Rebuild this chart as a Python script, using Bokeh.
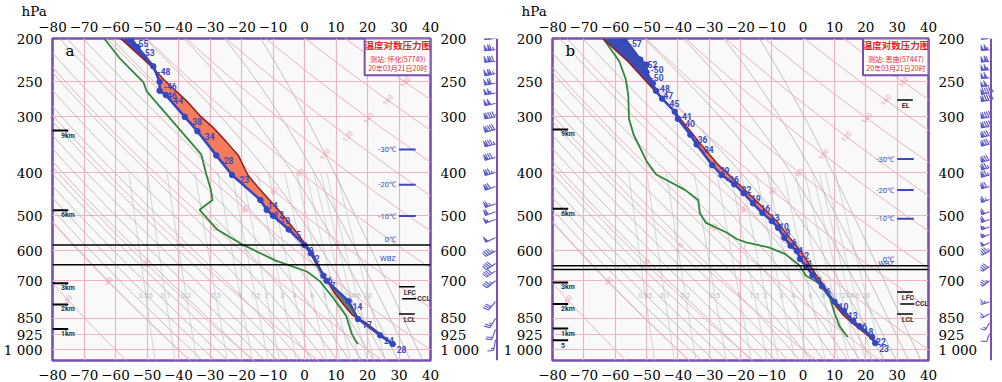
import numpy as np
from bokeh.plotting import figure
from bokeh.models import Range1d, FixedTicker, LinearAxis, LogAxis, Span, Label, Title
from bokeh.layouts import row
from bokeh.embed import file_html
from bokeh.resources import INLINE
from bokeh.core.properties import value

# ---------------- axes / ticks ----------------
P_TICKS = [200, 250, 300, 400, 500, 600, 700, 850, 925, 1000]
P_TICK_LABELS = ["200", "250", "300", "400", "500", "600", "700", "850", "925", "1 000"]
T_TICKS = [-80, -70, -60, -50, -40, -30, -20, -10, 0, 10, 20, 30, 40]
T_TICK_LABELS = ["−80", "−70", "−60", "−50", "−40", "−30", "−20", "−10", "0", "10", "20", "30", "40"]
T_GRID = [-70, -60, -50, -40, -30, -20, -10, 0, 10, 20, 30]
P_GRID = [250, 300, 400, 500, 600, 700, 850, 925, 1000]
P_UNIT = "hPa"

# background families
DRY_THETAS = list(range(-60, 221, 20))
DRY_LABELS = [-60, -40, -20, 0, 20, 40, 60, 80, 100, 120, 140, 160, 180]
MOIST_THW = list(range(-40, 37, 4))
MIX_W = [0.05, 0.1, 0.2, 0.5, 1, 1.5, 2, 3, 4, 6, 8, 10, 12, 14, 16, 20]
MIX_LABELS = ["0.05", "0.1", "0.2", "0.5", "1", "1.5", "2", "3", "4", "6", "8", "10", "12", "14", "16", "20"]

TITLE = "温度对数压力图"
TIME_TXT = "20年03月21日20时"

# ---------------- panel a : 怀化 ----------------
a_station = "测站: 怀化(57749)"
a_env_p = [200, 209, 231, 250, 262, 268, 300, 323, 366, 405, 461, 485, 500, 537, 582, 607, 682, 700, 778, 853, 928, 971]
a_env_t = [-55, -53, -48, -46, -46, -44, -38, -34, -28, -23, -14, -12, -10, -5, 0, 2, 6, 7, 14, 17, 24, 28]
a_dew_p = [200, 221, 251, 263, 364, 403, 438, 461, 485, 537, 579, 630, 668, 703, 765, 839, 921, 971]
a_dew_t = [-63.6, -58.8, -51.1, -50.1, -32.8, -31.2, -29.7, -29.2, -33.3, -27.7, -20.0, -9.3, 0.9, 5.0, 9.1, 13.2, 15.0, 16.9]
a_par_p = [200, 232, 250, 279, 300, 317, 340, 366, 405, 438, 485, 537, 582, 607, 640, 682, 700, 741, 790, 836, 870, 925, 971]
a_par_t = [-58.4, -48.3, -44.0, -36.8, -32.8, -29.0, -25.0, -21.0, -18.0, -14.0, -8.3, -3.2, 0.5, 2.6, 4.2, 6.1, 7.2, 9.3, 12.3, 15.2, 19.5, 24.3, 28]
a_neg_top = (200, 232)
a_cape = (232, 582)
a_cin = (700, 925)
a_wind_p = [200, 212, 225, 240, 252, 265, 280, 300, 320, 345, 370, 400, 430, 470, 490, 510, 560, 600, 640, 665, 700, 780, 850, 900, 950]
a_wind_d = [265, 265, 265, 260, 260, 260, 260, 260, 255, 255, 255, 255, 250, 250, 250, 250, 245, 240, 235, 235, 230, 220, 210, 200, 190]
a_wind_s = [44, 46, 48, 46, 44, 42, 40, 38, 36, 34, 32, 30, 28, 26, 24, 22, 20, 18, 16, 16, 14, 12, 10, 8, 6]
a_km_p = [322, 486, 709, 791, 898]
a_km_lab = ["9km", "6km", "3km", "2km", "1km"]
a_lev_p = [722, 768, 831, 232]
a_lev_lab = ["LFC", "CCL", "LCL", "EL"]
a_iso_p = [355, 426, 501]
a_iso_lab = ["-30℃", "-20℃", "-10℃"]
a_zero_p = 582
a_wbz_p = 644

# ---------------- panel b : 恩施 ----------------
b_station = "测站: 恩施(57447)"
b_env_p = [200, 223, 229, 238, 252, 262, 273, 292, 303, 329, 346, 385, 405, 425, 445, 469, 493, 514, 532, 560, 584, 600, 625, 651, 680, 720, 780, 818, 863, 886, 936, 966]
b_env_t = [-57, -52, -50, -50, -48, -47, -45, -41, -40, -36, -34, -29, -26, -22, -19, -16, -13, -10, -8, -6, -4, -2, -1, 1, 3, 6, 10, 13, 16, 18, 22, 23]
b_dew_p = [200, 225, 247, 269, 303, 329, 378, 404, 438, 461, 493, 519, 546, 564, 574, 589, 609, 646, 681, 708, 765, 830, 885, 936]
b_dew_t = [-63.8, -58.7, -56.6, -55.8, -55.6, -54.1, -49.9, -46.9, -37.6, -33.5, -33.0, -31.0, -24.3, -21.2, -18.2, -11.0, -5.8, -1.2, 0.8, 4.9, 8.5, 10.1, 11.6, 14.2]
b_par_p = [200, 225, 250, 273, 292, 303, 346, 385, 425, 469, 514, 560, 600, 651, 680, 715, 742, 790, 833, 886, 936, 966]
b_par_t = [-64, -56, -50, -45, -40.8, -39.2, -32.6, -27, -20.5, -14.2, -8.5, -4.3, -0.8, 2.4, 4.2, 6.5, 7.9, 10, 12.6, 17, 21.2, 23]
b_neg_top = (200, 273)
b_cape = (273, 742)
b_cin = (742, 936)
b_wind_p = [200, 212, 225, 235, 245, 255, 265, 275, 300, 315, 330, 345, 375, 390, 405, 430, 460, 490, 510, 530, 550, 575, 600, 650, 700, 780, 830, 870, 920]
b_wind_d = [265, 265, 265, 265, 265, 260, 260, 260, 260, 260, 255, 255, 255, 255, 255, 255, 250, 250, 250, 250, 245, 245, 240, 235, 230, 250, 240, 210, 200]
b_wind_s = [40, 42, 44, 42, 40, 40, 38, 38, 36, 36, 34, 34, 32, 30, 30, 28, 26, 24, 24, 22, 22, 20, 18, 16, 14, 10, 8, 6, 4]
b_km_p = [320, 482, 706, 789, 896, 952]
b_km_lab = ["9km", "6km", "3km", "2km", "1km", "5"]
b_lev_p = [742, 789, 831, 275]
b_lev_lab = ["LFC", "CCL", "LCL", "EL"]
b_iso_p = [373, 438, 508]
b_iso_lab = ["-30℃", "-20℃", "-10℃"]
b_zero_p = 648
b_wbz_p = 660

# ---------------- styling constants ----------------
PMIN, PMAX = 200.0, 1057.0
TOP, BOT = 37, 18
H = 382
FH = H - TOP - BOT
KPX = FH / np.log(PMAX / PMIN)

PURPLE = "#7a4eb2"
PINK_GRID = "#f1b4c4"
DRY_COL = "#f0b0ba"
MOIST_COL = "#b9b1a7"
MIX_COL = "#c6ced6"
ENV_COL = "#3447c0"
DEW_COL = "#2e8a3a"
PAR_COL = "#9b1c1c"
CAPE_COL = "#f47b5b"
NEG_COL = "#3a4cb6"
CIN_COL = "#5d7f6b"
LBL_BLUE = "#3a49c2"
TITLE_RED = "#e4262c"
BARB_COL = "#5b55c8"
SERIF = "DejaVu Serif"
SANS = "Roboto"
CJK = "Noto Sans CJK SC"
TICK_FS = "13.5px"

Rd, cp, Lv, eps = 287.04, 1005.7, 2.501e6, 0.622


def dTdp(T, p):
    e = 6.112 * np.exp(17.67 * (T - 273.15) / (T - 29.65))
    rs = eps * e / (p - e)
    return (Rd * T + Lv * rs) / (p * (cp + Lv * Lv * rs * eps / (Rd * T * T)))


def integrate(pp, T0):
    T = np.array(T0, float) + 273.15
    out = [T.copy()]
    for i in range(1, len(pp)):
        dp = pp[i] - pp[i - 1]
        k1 = dTdp(T, pp[i - 1])
        k2 = dTdp(T + k1 * dp, pp[i])
        T = T + 0.5 * (k1 + k2) * dp
        out.append(T.copy())
    return np.array(out) - 273.15


def moist_family():
    up = np.geomspace(1000, PMIN * 0.98, 180)
    down = np.geomspace(1000, PMAX * 1.01, 10)
    tu = integrate(up, MOIST_THW)
    td = integrate(down, MOIST_THW)
    pp = np.concatenate([down[::-1], up[1:]])
    tt = np.concatenate([td[::-1], tu[1:]], axis=0)
    return [list(tt[:, i]) for i in range(len(MOIST_THW))], [list(pp)] * len(MOIST_THW)


def dry_T(theta_c, pp):
    return (theta_c + 273.15) * (np.asarray(pp) / 1000.0) ** 0.2857 - 273.15


def mix_T(w, pp):
    pp = np.asarray(pp)
    e = w * pp / (622.0 + w)
    l = np.log(e / 6.112)
    return 243.5 * l / (17.67 - l)


def style_axis(ax, ticks, labels, standoff=4):
    ax.ticker = FixedTicker(ticks=ticks)
    ax.major_label_overrides = dict(zip(ticks, labels))
    ax.major_tick_line_color = None
    ax.minor_tick_line_color = None
    ax.axis_line_color = None
    ax.major_label_text_font = SERIF
    ax.major_label_text_font_size = TICK_FS
    ax.major_label_text_color = "black"
    ax.major_label_standoff = standoff


def band(env_p, env_t, par_p, par_t, rng):
    lo, hi = rng
    e = [(pp, tt) for pp, tt in zip(env_p, env_t) if lo <= pp <= hi]
    q = [(pp, tt) for pp, tt in zip(par_p, par_t) if lo <= pp <= hi]
    xs = [tt for pp, tt in e] + [tt for pp, tt in reversed(q)]
    ys = [pp for pp, tt in e] + [pp for pp, tt in reversed(q)]
    return xs, ys


def make_main(d):
    W = d["ml"] + d["fw"] + d["mr"]
    p = figure(width=W, height=H, x_range=Range1d(-80, 40), y_range=Range1d(PMAX, PMIN),
               y_axis_type="log", output_backend="svg", toolbar_location=None,
               min_border_left=d["ml"], min_border_right=d["mr"],
               min_border_top=0, min_border_bottom=BOT)
    top_ax = LinearAxis()
    p.add_layout(top_ax, "above")
    # pressure unit, placed above the top axis at the left of the frame
    p.add_layout(Title(text=P_UNIT, align="left", offset=-31, standoff=0,
                       text_font=SERIF, text_font_size=TICK_FS, text_font_style="normal",
                       text_color="black"), "above")
    p.add_layout(LogAxis(), "right")
    for ax in p.below:
        style_axis(ax, T_TICKS, T_TICK_LABELS, 3)
    style_axis(top_ax, T_TICKS, T_TICK_LABELS, 1)
    for ax in p.yaxis:
        style_axis(ax, P_TICKS, P_TICK_LABELS, 4)
    p.xgrid.ticker = FixedTicker(ticks=T_GRID)
    p.ygrid.ticker = FixedTicker(ticks=P_GRID)
    p.grid.grid_line_color = PINK_GRID
    p.grid.grid_line_width = 1.2
    p.background_fill_color = "#f9f9f9"
    p.border_fill_color = "white"
    p.outline_line_color = PURPLE
    p.outline_line_width = 2.6

    # mixing ratio lines
    pm = np.geomspace(PMAX * 1.01, 400, 40)
    p.multi_line([list(mix_T(w, pm)) for w in MIX_W], [list(pm)] * len(MIX_W),
                 line_color=MIX_COL, line_width=0.8)
    plab = 757.0
    p.text([float(mix_T(w, plab)) for w in MIX_W], [plab] * len(MIX_W), text=MIX_LABELS,
           text_font=value(SANS), text_font_size=value("7px"), text_color="#b9bec4",
           text_align="center", text_baseline="middle")
    # moist adiabats
    mx, my = moist_family()
    p.multi_line(mx, my, line_color=MOIST_COL, line_width=0.9, line_alpha=0.9)
    # dry adiabats (pink)
    pd = np.geomspace(PMAX * 1.01, PMIN * 0.98, 60)
    p.multi_line([list(dry_T(th, pd)) for th in DRY_THETAS], [list(pd)] * len(DRY_THETAS),
                 line_color=DRY_COL, line_width=1.0)
    lp = [float(np.exp(np.log(772) - (th + 60) / 20 * 0.0938)) for th in DRY_LABELS]
    lt = [float(dry_T(th, pl)) for th, pl in zip(DRY_LABELS, lp)]
    p.text(lt, lp, text=[str(t) for t in DRY_LABELS], angle=0.9,
           text_font=value(SANS), text_font_size=value("7px"), text_color="#eaa0aa",
           text_align="center", text_baseline="middle")

    # level lines 0C / WBZ
    for loc in (d["zero"], d["wbz"]):
        p.add_layout(Span(location=loc, dimension="width", line_color="black", line_width=1.5))
    p.text([29, 29], [d["zero"], d["wbz"]], text=["0℃", "WBZ"], y_offset=-6,
           text_font=value(SANS), text_font_size=value("7.5px"), text_color=LBL_BLUE,
           text_align="right", text_baseline="middle")

    # iso temperature markers
    p.segment([30] * 3, d["iso_p"], [35.3] * 3, d["iso_p"], line_color=LBL_BLUE, line_width=2)
    p.text([29] * 3, d["iso_p"], text=d["iso_lab"], text_font=value(SANS),
           text_font_size=value("7.5px"), text_color=LBL_BLUE, text_align="right",
           text_baseline="middle")

    # height markers
    n = len(d["km_p"])
    p.segment([-80] * n, d["km_p"], [-75] * n, d["km_p"], line_color="black", line_width=2)
    p.text([-77.3] * n, d["km_p"], text=d["km_lab"], y_offset=5, text_font=value(SANS),
           text_font_style="bold", text_font_size=value("7px"), text_color="#333333",
           text_align="left", text_baseline="middle")

    # LFC CCL LCL EL
    lx0 = [30, 31, 30, 30]
    lx1 = [35, 35.5, 35, 35]
    p.segment(lx0, d["lev_p"], lx1, d["lev_p"], line_color="black", line_width=1.5)
    p.text([31.5, 35.8, 31.5, 31.5], d["lev_p"], text=d["lev_lab"], y_offset=[6, 0, 6, 6],
           text_font=value(SANS), text_font_style="bold", text_font_size=value("7px"),
           text_color="#333333", text_align="left", text_baseline="middle")

    # areas
    for rng, col in ((d["neg"], NEG_COL), (d["cape"], CAPE_COL), (d["cin"], CIN_COL)):
        xs, ys = band(d["env_p"], d["env_t"], d["par_p"], d["par_t"], rng)
        p.patch(xs, ys, fill_color=col, line_color=None)

    p.line(d["dew_t"], d["dew_p"], line_color=DEW_COL, line_width=1.8)
    p.line(d["par_t"], d["par_p"], line_color=PAR_COL, line_width=1.5)
    p.line(d["env_t"], d["env_p"], line_color=ENV_COL, line_width=2.6)
    p.scatter(d["env_t"], d["env_p"], size=5.5, fill_color=ENV_COL, line_color=ENV_COL)
    p.text(d["env_t"], d["env_p"], text=[f"{t:g}" for t in d["env_t"]], x_offset=4, y_offset=5,
           text_font=value(SANS), text_font_style="bold", text_font_size=value("8.5px"),
           text_color=LBL_BLUE, text_align="left", text_baseline="middle")

    # title box
    p.quad(left=[19.1], right=[40], top=[PMIN], bottom=[242], fill_color="white",
           line_color=PURPLE, line_width=2)
    p.text([29.6], [207], text=[TITLE], text_font=value(CJK), text_font_style="bold",
           text_font_size=value("9.5px"), text_color=TITLE_RED, text_align="center",
           text_baseline="middle")
    p.text([29.6, 29.6], [222, 233], text=[d["station"], TIME_TXT], text_font=value(CJK),
           text_font_size=value("7px"), text_color=TITLE_RED, text_align="center",
           text_baseline="middle")

    p.add_layout(Label(x=13, y=FH - 17, x_units="screen", y_units="screen", text=d["letter"],
                       text_font=SERIF, text_font_size="15px", text_baseline="middle",
                       text_color="black"))
    return p


def make_barbs(d, y_range):
    bw = d["bw"]
    b = figure(width=bw, height=H, x_range=Range1d(0, bw), y_range=y_range, y_axis_type="log",
               output_backend="svg", toolbar_location=None, min_border_left=0,
               min_border_right=0, min_border_top=TOP, min_border_bottom=BOT,
               x_axis_location=None, y_axis_location=None)
    b.grid.visible = False
    b.outline_line_color = None
    b.background_fill_color = "white"
    b.border_fill_color = "white"
    xa, L, F = d["xa"], d["blen"], 6.0
    x0, y0, x1, y1, txs, tys = [], [], [], [], [], []

    for pr, dr, sp in zip(d["wp"], d["wd"], d["ws"]):
        r = np.deg2rad(dr)
        sx, sy = np.sin(r), np.cos(r)
        fx, fy = sy, -sx

        def pt(a, c):
            return xa + a, pr * np.exp(-c / KPX)

        ax_, ay_ = pt(0, 0)
        bx_, by_ = pt(sx * L, sy * L)
        x0.append(ax_); y0.append(ay_); x1.append(bx_); y1.append(by_)
        n50 = int(sp // 20)
        rem = sp - 20 * n50
        n10 = int(rem // 4)
        n5 = 1 if rem - 4 * n10 >= 2 else 0
        pos = L
        for _ in range(n50):
            A = pt(sx * pos, sy * pos)
            B = pt(sx * (pos - 3), sy * (pos - 3))
            C = pt(sx * pos + fx * F, sy * pos + fy * F)
            txs.append([A[0], B[0], C[0]]); tys.append([A[1], B[1], C[1]])
            pos -= 3.5
        for _ in range(n10):
            A = pt(sx * pos, sy * pos)
            C = pt(sx * (pos + 1.6) + fx * F, sy * (pos + 1.6) + fy * F)
            x0.append(A[0]); y0.append(A[1]); x1.append(C[0]); y1.append(C[1])
            pos -= 2.2
        for _ in range(n5):
            A = pt(sx * pos, sy * pos)
            C = pt(sx * (pos + 0.8) + fx * F / 2, sy * (pos + 0.8) + fy * F / 2)
            x0.append(A[0]); y0.append(A[1]); x1.append(C[0]); y1.append(C[1])

    b.segment(x0, y0, x1, y1, line_color=BARB_COL, line_width=1.1)
    if txs:
        b.patches(txs, tys, fill_color=BARB_COL, line_color=BARB_COL, line_width=0.6)
    b.add_layout(Span(location=xa + 1.5, dimension="height", line_color=PURPLE, line_width=2))
    return b


A = dict(letter="a", station=a_station, env_p=a_env_p, env_t=a_env_t, dew_p=a_dew_p,
         dew_t=a_dew_t, par_p=a_par_p, par_t=a_par_t, neg=a_neg_top, cape=a_cape, cin=a_cin,
         wp=a_wind_p, wd=a_wind_d, ws=a_wind_s, km_p=a_km_p, km_lab=a_km_lab,
         lev_p=a_lev_p, lev_lab=a_lev_lab, iso_p=a_iso_p, iso_lab=a_iso_lab,
         zero=a_zero_p, wbz=a_wbz_p, ml=49, fw=392, mr=41, bw=18, xa=13, blen=11)
B = dict(letter="b", station=b_station, env_p=b_env_p, env_t=b_env_t, dew_p=b_dew_p,
         dew_t=b_dew_t, par_p=b_par_p, par_t=b_par_t, neg=b_neg_top, cape=b_cape, cin=b_cin,
         wp=b_wind_p, wd=b_wind_d, ws=b_wind_s, km_p=b_km_p, km_lab=b_km_lab,
         lev_p=b_lev_p, lev_lab=b_lev_lab, iso_p=b_iso_p, iso_lab=b_iso_lab,
         zero=b_zero_p, wbz=b_wbz_p, ml=49, fw=390, mr=41, bw=20, xa=9, blen=8.5)

fa = make_main(A)
ba = make_barbs(A, fa.y_range)
fb = make_main(B)
bb = make_barbs(B, fb.y_range)

layout = row(fa, ba, fb, bb)
open("out.html", "w").write(file_html(layout, INLINE))
